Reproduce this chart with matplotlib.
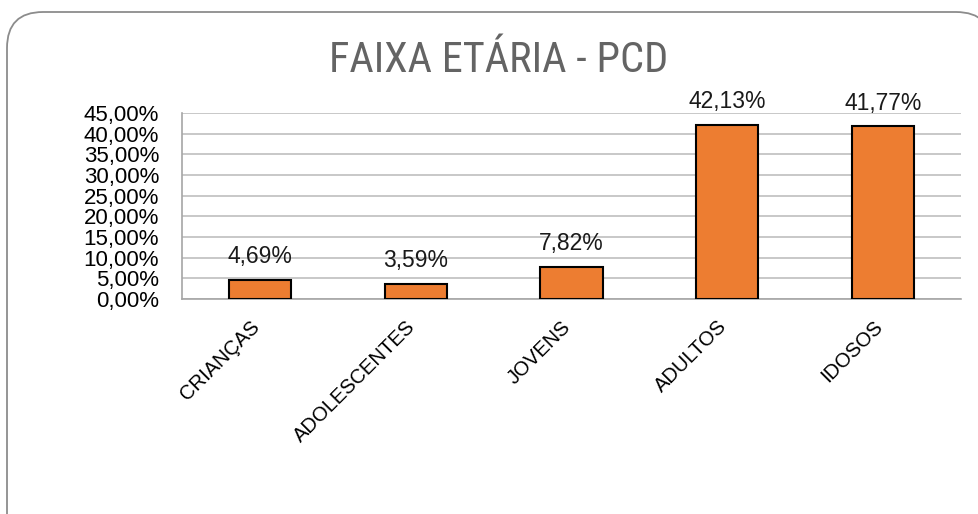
import matplotlib.pyplot as plt
from matplotlib.patches import FancyBboxPatch
from matplotlib.ticker import FuncFormatter, MultipleLocator
from matplotlib.transforms import ScaledTranslation

# Age groups and their share (%)
categorias = ['CRIANÇAS', 'ADOLESCENTES', 'JOVENS', 'ADULTOS', 'IDOSOS']
percentuais = [4.69, 3.59, 7.82, 42.13, 41.77]
titulo = 'FAIXA ETÁRIA - PCD'

plt.rcParams['font.family'] = ['Liberation Sans', 'DejaVu Sans']

fig = plt.figure(figsize=(9.79, 5.14), dpi=100)

# Rounded frame around the whole chart (pixel coordinates)
frame = FancyBboxPatch((7, -40), 985, 542,
                       boxstyle='round,pad=0,rounding_size=36',
                       transform=None, facecolor='white',
                       edgecolor='#8c8c8c', linewidth=1.3, zorder=-5)
fig.patches.append(frame)

ax = fig.add_axes([0.186, 0.4183, 0.7956, 0.3619])
ax.set_facecolor('none')

x = range(len(categorias))
ax.bar(x, percentuais, width=0.4, color='#ED7D31', edgecolor='black',
       linewidth=1.5, zorder=3)

# Value labels above each bar
for i, v in enumerate(percentuais):
    ax.annotate(f'{v:.2f}%'.replace('.', ','), (i, v),
                xytext=(0, 12), textcoords='offset points',
                ha='center', va='baseline', fontsize=16.5, color='#1a1a1a')

ax.set_xlim(-0.5, len(categorias) - 0.5)
ax.set_ylim(0, 45)
ax.yaxis.set_major_locator(MultipleLocator(5))
ax.yaxis.set_major_formatter(
    FuncFormatter(lambda v, p: f'{v:.2f}%'.replace('.', ',')))
ax.grid(axis='y', color='#bfbfbf', linewidth=1.2, zorder=0)

ax.set_xticks(list(x))
ax.set_xticklabels(categorias, rotation=45, ha='right', fontsize=14.5)
ax.tick_params(axis='x', length=0, pad=13)
ax.tick_params(axis='y', length=0, pad=16.5, labelsize=16)
# nudge rotated labels slightly right of the tick
shift = ScaledTranslation(3 / 100, 0, fig.dpi_scale_trans)
for lab in ax.get_xticklabels():
    lab.set_transform(lab.get_transform() + shift)

for side in ['top', 'right']:
    ax.spines[side].set_visible(False)
for side in ['left', 'bottom']:
    ax.spines[side].set_color('#a6a6a6')
    ax.spines[side].set_linewidth(1.2)

fig.text(0.5097, 0.860, titulo, ha='center', va='baseline', fontsize=30.5,
         color='#646464', family=['Roboto Condensed', 'Roboto'])

fig.savefig('out.png', dpi=100)
